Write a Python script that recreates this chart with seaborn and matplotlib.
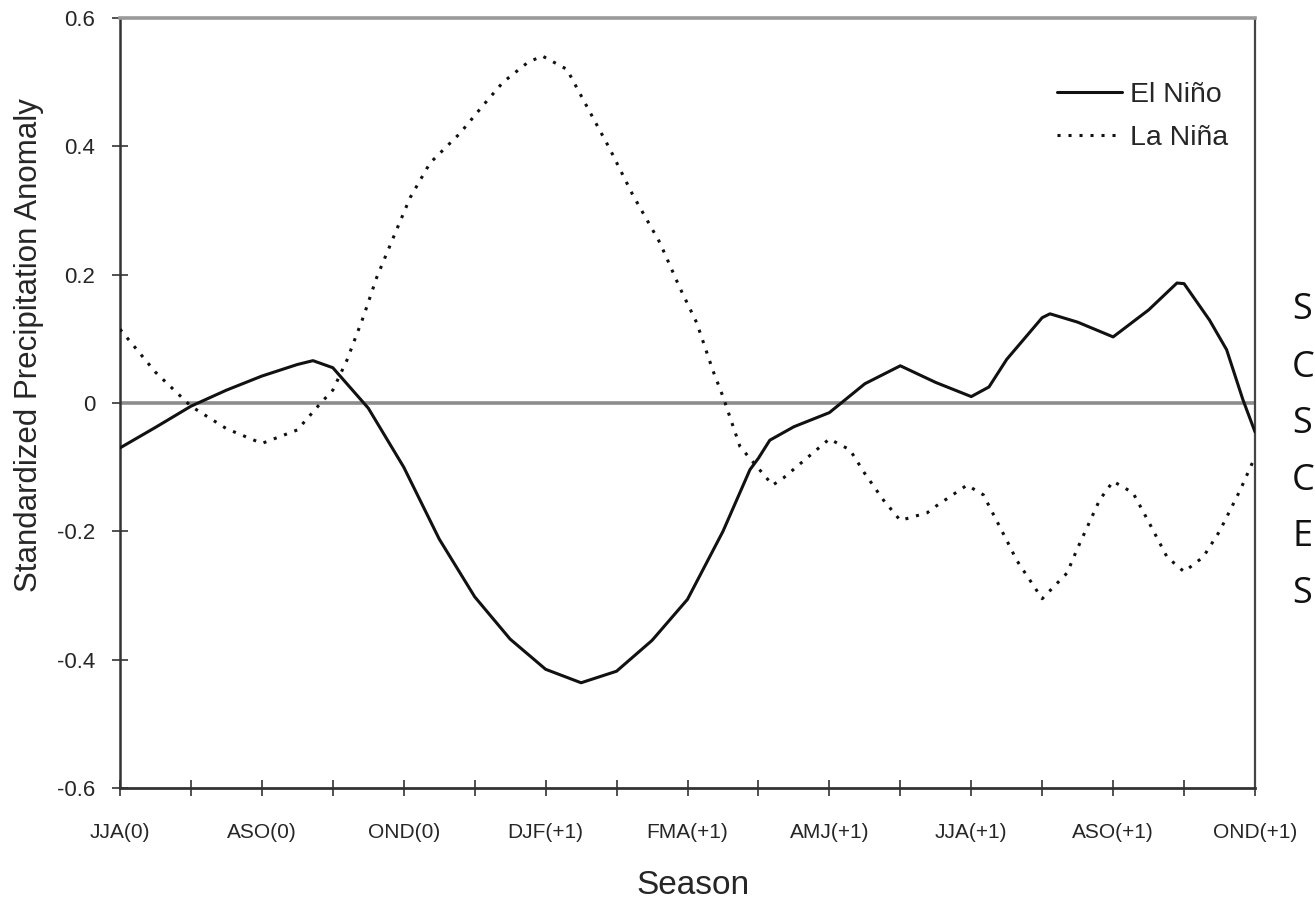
import numpy as np
import pandas as pd
import matplotlib
matplotlib.use("Agg")
import matplotlib.pyplot as plt
from matplotlib.lines import Line2D
import seaborn as sns

# ---- data ----
seasons = ["JJA(0)", "JAS(0)", "ASO(0)", "SON(0)", "OND(0)", "NDJ(0)", "DJF(+1)",
           "JFM(+1)", "FMA(+1)", "MAM(+1)", "AMJ(+1)", "MJJ(+1)", "JJA(+1)",
           "JAS(+1)", "ASO(+1)", "SON(+1)", "OND(+1)"]
shown_labels = ["JJA(0)", "ASO(0)", "OND(0)", "DJF(+1)", "FMA(+1)", "AMJ(+1)",
                "JJA(+1)", "ASO(+1)", "OND(+1)"]

# values (position = season index)
el_nino_pos = [0, 0.5, 1.0, 1.5, 2.0, 2.5, 2.72, 3.0, 3.5, 4.0, 4.5, 5.0, 5.5, 6.0,
               6.5, 7.0, 7.5, 8.0, 8.5, 8.88, 9.0, 9.16, 9.5, 10.0, 10.5, 11.0, 11.5,
               12.0, 12.25, 12.5, 13.0, 13.11, 13.5, 14.0, 14.5, 14.9, 15.0, 15.36,
               15.6, 15.83, 16.0]
el_nino = [-0.07, -0.038, -0.005, 0.02, 0.042, 0.06, 0.066, 0.055, -0.008, -0.10,
           -0.212, -0.302, -0.368, -0.415, -0.436, -0.418, -0.37, -0.306, -0.20,
           -0.104, -0.086, -0.058, -0.037, -0.015, 0.03, 0.058, 0.032, 0.01, 0.025,
           0.068, 0.133, 0.139, 0.126, 0.103, 0.145, 0.187, 0.186, 0.129, 0.083,
           0.005, -0.045]

la_nina_pos = [0, 0.5, 1.0, 1.5, 2.0, 2.5, 2.83, 3.0, 3.2, 3.43, 3.62, 3.88, 4.09,
               4.37, 4.79, 5.12, 5.4, 5.74, 5.95, 6.3, 6.67, 6.9, 7.23, 7.61, 7.89,
               8.13, 8.36, 8.5, 8.74, 9.2, 9.35, 9.5, 10.0, 10.29, 10.5, 10.76, 11.0,
               11.38, 11.5, 11.94, 12.17, 12.5, 12.64, 13.0, 13.35, 13.5, 13.81, 14.0,
               14.28, 14.5, 14.76, 15.0, 15.27, 15.5, 15.79, 16.0]
la_nina = [0.115, 0.048, -0.005, -0.04, -0.063, -0.042, 0.0, 0.02, 0.067, 0.134,
           0.196, 0.265, 0.32, 0.374, 0.42, 0.464, 0.50, 0.53, 0.541, 0.52, 0.444,
           0.397, 0.324, 0.25, 0.18, 0.125, 0.05, 0.01, -0.068, -0.128, -0.117,
           -0.103, -0.056, -0.073, -0.11, -0.151, -0.183, -0.171, -0.161, -0.128,
           -0.143, -0.214, -0.245, -0.305, -0.265, -0.226, -0.151, -0.122, -0.14,
           -0.185, -0.24, -0.263, -0.24, -0.20, -0.136, -0.084]

y_ticks = [-0.6, -0.4, -0.2, 0, 0.2, 0.4, 0.6]
y_tick_labels = ["-0.6", "-0.4", "-0.2", "0", "0.2", "0.4", "0.6"]
side_letters = ["S", "C", "S", "C", "E", "S"]

df = pd.DataFrame({
    "pos": el_nino_pos + la_nina_pos,
    "val": el_nino + la_nina,
    "series": ["El Niño"] * len(el_nino) + ["La Niña"] * len(la_nina),
})

sns.set_theme(style="white")
plt.rcParams["font.family"] = ["Liberation Sans", "DejaVu Sans"]

fig = plt.figure(figsize=(13.15, 9.24), dpi=100)
ax = fig.add_axes([120 / 1315, 1 - 788 / 924, 1135 / 1315, 770 / 924])

ax.axhline(0, color="#8c8c8c", lw=2.6, zorder=1)

sns.lineplot(data=df, x="pos", y="val", hue="series", style="series",
             palette={"El Niño": "#111111", "La Niña": "#111111"},
             dashes={"El Niño": "", "La Niña": (1, 2.6)},
             linewidth=2.2, legend=False, ax=ax, zorder=3, sort=True)

ax.set_xlim(0, 16)
ax.set_ylim(-0.6, 0.6)
ax.set_xticks(range(len(seasons)))
ax.set_xticklabels([s if s in shown_labels and i % 2 == 0 else "" for i, s in enumerate(seasons)],
                   fontsize=15)
ax.set_yticks(y_ticks)
ax.set_yticklabels(y_tick_labels, fontsize=16)
ax.tick_params(axis="both", direction="inout", length=12, width=1.2, color="#333333",
               bottom=True, left=True)
ax.tick_params(axis="y", pad=12)
ax.tick_params(axis="x", pad=19)

ax.set_xlabel("Season", fontsize=24)
ax.set_ylabel("Standardized Precipitation Anomaly", fontsize=22.5)
ax.xaxis.set_label_coords((693 - 120) / 1135, -(885 - 788) / 770)
ax.yaxis.set_label_coords(-(120 - 29) / 1135, 1 - (345 - 18) / 770)
ax.xaxis.label.set_va("center")
ax.yaxis.label.set_va("center")

for side, col, lw in [("left", "#333333", 1.8), ("bottom", "#333333", 2.0),
                      ("top", "#9a9a9a", 2.6), ("right", "#444444", 1.6)]:
    ax.spines[side].set_visible(True)
    ax.spines[side].set_color(col)
    ax.spines[side].set_linewidth(lw)

handles = [Line2D([0], [0], color="#111111", lw=2.2, ls="-"),
           Line2D([0], [0], color="#111111", lw=2.2, ls=(0, (1, 2.6)))]
ax.legend(handles, ["El Niño", "La Niña"], frameon=False, fontsize=20.5,
          loc="upper left", bbox_to_anchor=((1057 - 120) / 1135, 1 - (82 - 18) / 770),
          borderpad=0, borderaxespad=0, handlelength=2.3, handletextpad=0.25,
          labelspacing=0.6)

ys = [310, 368, 424, 481, 537, 594]
for letter, yy in zip(side_letters, ys):
    fig.text(1292 / 1315, 1 - yy / 924, letter, fontsize=26, family=["Open Sans", "DejaVu Sans"],
             va="center", ha="left", color="#111111")

fig.savefig("out.png", dpi=100)
